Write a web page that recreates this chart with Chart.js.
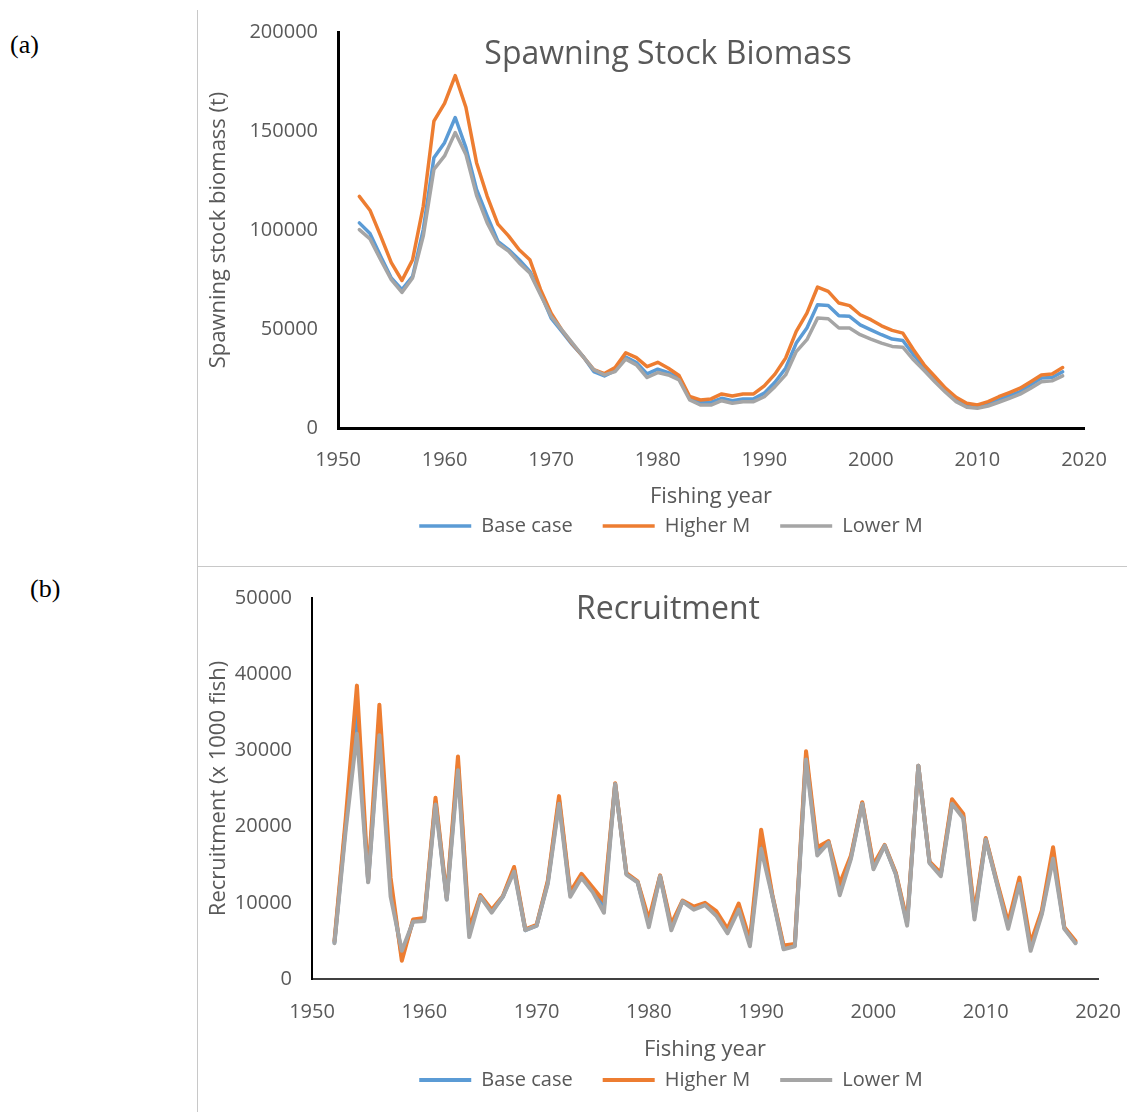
<!DOCTYPE html>
<html>
<head>
<meta charset="utf-8">
<script src="https://cdn.jsdelivr.net/npm/chart.js@4.4.1/dist/chart.umd.min.js"></script>
<style>
  body { margin: 0; background: #fff; width: 1127px; height: 1112px; overflow: hidden; position: relative; }
  .panel-label { position: absolute; font-family: 'Liberation Serif', serif; font-size: 26px; color: #000; }
  .frame-v { position: absolute; left: 197px; top: 10px; width: 1px; height: 1102px; background: #c8c8c8; }
  .frame-h { position: absolute; left: 197px; top: 566px; width: 930px; height: 1px; background: #c8c8c8; }
  canvas { position: absolute; }
</style>
</head>
<body>
<div class="panel-label" style="left:10px;top:30px">(a)</div>
<div class="panel-label" style="left:30px;top:574px">(b)</div>
<div class="frame-v"></div>
<div class="frame-h"></div>
<canvas id="ssb-chart" width="930" height="566" style="left:197px;top:0"></canvas>
<canvas id="rec-chart" width="930" height="546" style="left:197px;top:566px"></canvas>
<script>
const years = [1952, 1953, 1954, 1955, 1956, 1957, 1958, 1959, 1960, 1961,
  1962, 1963, 1964, 1965, 1966, 1967, 1968, 1969, 1970, 1971,
  1972, 1973, 1974, 1975, 1976, 1977, 1978, 1979, 1980, 1981,
  1982, 1983, 1984, 1985, 1986, 1987, 1988, 1989, 1990, 1991,
  1992, 1993, 1994, 1995, 1996, 1997, 1998, 1999, 2000, 2001,
  2002, 2003, 2004, 2005, 2006, 2007, 2008, 2009, 2010, 2011,
  2012, 2013, 2014, 2015, 2016, 2017, 2018];
const seriesNames = ['Base case', 'Higher M', 'Lower M'];

// spawning stock biomass (t)
const ssbBase = [103600, 98200, 86700, 75800, 69900, 76600, 100200, 136500, 144100, 156800,
  141600, 120500, 107000, 94300, 90100, 85000, 79100, 68200, 55500, 48800,
  42000, 36100, 28500, 26300, 28900, 35800, 33100, 27300, 29700, 28000,
  25200, 15000, 12800, 13000, 15000, 13800, 14700, 14700, 17600, 23100,
  30200, 42900, 50500, 62300, 61900, 56700, 56400, 52100, 49600, 47100,
  44900, 44200, 37000, 30700, 25200, 19200, 14700, 11600, 10800, 12200,
  14200, 16400, 18400, 21800, 25200, 25500, 28400];
const ssbHigherM = [117000, 110000, 97000, 83500, 74500, 85000, 112000, 155000, 164000, 178000,
  162000, 134000, 117000, 103000, 97000, 90000, 85000, 70000, 58000, 49500,
  42500, 36000, 29500, 27500, 30500, 38000, 35500, 31000, 33200, 30200,
  26500, 15900, 14200, 14700, 17200, 16200, 17200, 17200, 21300, 27200,
  35300, 48800, 58000, 71200, 69000, 63100, 61800, 57200, 54700, 51600,
  49300, 47900, 39500, 31900, 26000, 20100, 15500, 12500, 11600, 13300,
  15800, 17900, 20100, 23400, 26800, 27300, 30500];
const ssbLowerM = [100200, 95500, 85000, 74900, 68500, 75800, 96900, 130600, 137400, 149200,
  138200, 117500, 103600, 93200, 89300, 83400, 78300, 67300, 56400, 49600,
  42900, 36100, 29400, 26800, 28500, 34800, 31900, 25500, 28000, 26800,
  24300, 14200, 11600, 11600, 13800, 12500, 13300, 13300, 15800, 20900,
  26800, 38600, 44600, 55500, 55200, 50500, 50500, 47100, 44900, 42900,
  41200, 40800, 34400, 29000, 23400, 18100, 13300, 10500, 10000, 11100,
  13000, 15000, 17100, 20100, 23400, 23800, 26300];

// recruitment (x 1000 fish)
const recBase = [4800, 20200, 34700, 12800, 33000, 12000, 3000, 7600, 7800, 23300,
  10500, 28200, 6000, 10900, 8900, 10800, 14400, 6400, 7000, 12700,
  23500, 11100, 13500, 11700, 9500, 25600, 13800, 12700, 7300, 13500,
  6800, 10200, 9300, 9800, 8600, 6300, 9500, 4700, 18300, 10900,
  4100, 4400, 29300, 16700, 18000, 11700, 16000, 23100, 14700, 17500,
  13800, 7300, 28000, 15300, 13700, 23300, 21400, 8200, 18400, 12600,
  7000, 12900, 4200, 8700, 16500, 6700, 4800];
const recHigherM = [5000, 21000, 38500, 13000, 36000, 13300, 2400, 7800, 8000, 23800,
  10700, 29200, 6600, 11000, 9100, 10900, 14700, 6500, 7100, 12900,
  24000, 11400, 13800, 12000, 10200, 25700, 13900, 12800, 7800, 13600,
  7200, 10300, 9500, 10000, 8900, 6600, 9900, 5100, 19600, 11000,
  4400, 4600, 29900, 17300, 18100, 12500, 16200, 23200, 15000, 17600,
  13900, 7600, 28000, 15400, 13900, 23600, 21700, 8700, 18500, 12800,
  7400, 13300, 4700, 9000, 17300, 6800, 5000];
const recLowerM = [4700, 19500, 32200, 12700, 32000, 10800, 3700, 7500, 7600, 22900,
  10400, 27400, 5500, 10800, 8700, 10800, 14100, 6400, 7000, 12500,
  23000, 10800, 13300, 11400, 8700, 25600, 13700, 12700, 6800, 13500,
  6400, 10200, 9100, 9700, 8300, 6000, 9100, 4300, 17100, 10800,
  3900, 4300, 28800, 16200, 17900, 11000, 15800, 23000, 14400, 17500,
  13700, 7000, 28000, 15200, 13500, 23000, 21100, 7800, 18300, 12500,
  6600, 12500, 3700, 8500, 15800, 6600, 4700];

const TEXT = '#595959';
const BLUE = '#5B9BD5';
const ORANGE = '#ED7D31';
const GREY = '#A5A5A5';
const FONT = "'Open Sans', sans-serif";

Chart.defaults.font.family = FONT;
Chart.defaults.color = TEXT;

// excel puts the chart title over the plot area, so draw it there ourselves
const overlayTitle = {
  id: 'overlayTitle',
  afterDraw(chart, args, opts) {
    const ctx = chart.ctx;
    ctx.save();
    ctx.font = opts.size + 'px ' + FONT;
    ctx.fillStyle = TEXT;
    ctx.textAlign = 'center';
    ctx.textBaseline = 'middle';
    ctx.fillText(opts.text, opts.x, opts.y);
    ctx.restore();
  }
};

// move the legend row so it is centred where the original has it
const legendShift = {
  id: 'legendShift',
  afterLayout(chart, args, opts) {
    const lg = chart.legend;
    const dx = opts.center - (lg.left + lg.right) / 2;
    lg.left += dx;
    lg.right += dx;
  }
};

function series(label, values, color, order, width) {
  return {
    label: label,
    data: years.map((yr, i) => ({ x: yr, y: values[i] })),
    borderColor: color,
    backgroundColor: color,
    borderWidth: width,
    borderJoinStyle: 'round',
    borderCapStyle: 'round',
    pointRadius: 0,
    tension: 0,
    order: order
  };
}

function makeChart(canvasId, s) {
  const ctx = document.getElementById(canvasId).getContext('2d');
  return new Chart(ctx, {
    type: 'line',
    data: {
      datasets: [
        series(seriesNames[0], s.base, BLUE, 2, s.lineWidth),
        series(seriesNames[1], s.higher, ORANGE, 1, s.lineWidth),
        series(seriesNames[2], s.lower, GREY, 0, s.lineWidth)
      ]
    },
    options: {
      responsive: false,
      animation: false,
      layout: { padding: s.padding },
      scales: {
        x: {
          type: 'linear',
          min: 1950,
          max: 2020,
          grid: { display: false, drawTicks: false },
          border: { display: true, color: s.xBorder, width: s.borderWidth },
          ticks: { stepSize: 10, padding: s.xTickPad, font: { size: 20 }, color: TEXT,
                   callback: v => String(v) },
          title: { display: true, text: 'Fishing year', font: { size: 22 }, color: TEXT,
                   padding: { top: 0, bottom: s.xTitlePad } },
          afterFit: axis => {
            axis.height = s.xHeight;
            // let layout.padding alone decide the plot edges
            axis.paddingLeft = 0;
            axis.paddingRight = 0;
          }
        },
        y: {
          min: 0,
          max: s.yMax,
          grid: { display: false, drawTicks: false },
          border: { display: true, color: '#000', width: s.borderWidth },
          ticks: { stepSize: s.yStep, padding: 20, font: { size: 20 }, color: TEXT,
                   callback: v => String(v) },
          title: { display: true, text: s.yTitle, font: { size: 22 }, color: TEXT,
                   padding: { top: 9, bottom: 0 } },
          afterFit: axis => { axis.width = s.yWidth; }
        }
      },
      plugins: {
        tooltip: { enabled: false },
        legend: {
          position: 'bottom',
          labels: {
            usePointStyle: true,
            pointStyle: 'line',
            pointStyleWidth: 52,
            font: { size: 20 },
            color: TEXT,
            padding: 30,
            sort: (a, b) => a.datasetIndex - b.datasetIndex
          }
        },
        overlayTitle: { text: s.title, x: 471, y: s.titleY, size: 32 },
        legendShift: { center: 474 }
      }
    },
    plugins: [overlayTitle, legendShift]
  });
}

makeChart('ssb-chart', {
  base: ssbBase, higher: ssbHigherM, lower: ssbLowerM,
  title: 'Spawning Stock Biomass', titleY: 55,
  yTitle: 'Spawning stock biomass (t)', yMax: 200000, yStep: 50000,
  padding: { top: 32, right: 43, bottom: 20, left: 0 },
  yWidth: 141, xHeight: 58, xTickPad: 20, xTitlePad: -24,
  xBorder: '#000', borderWidth: 3, lineWidth: 3.5
});

makeChart('rec-chart', {
  base: recBase, higher: recHigherM, lower: recLowerM,
  title: 'Recruitment', titleY: 44,
  yTitle: 'Recruitment (x 1000 fish)', yMax: 50000, yStep: 10000,
  padding: { top: 16, right: 29, bottom: 12, left: 0 },
  yWidth: 115, xHeight: 61, xTickPad: 21, xTitlePad: -23,
  xBorder: '#404040', borderWidth: 2, lineWidth: 4
});
</script>
</body>
</html>
